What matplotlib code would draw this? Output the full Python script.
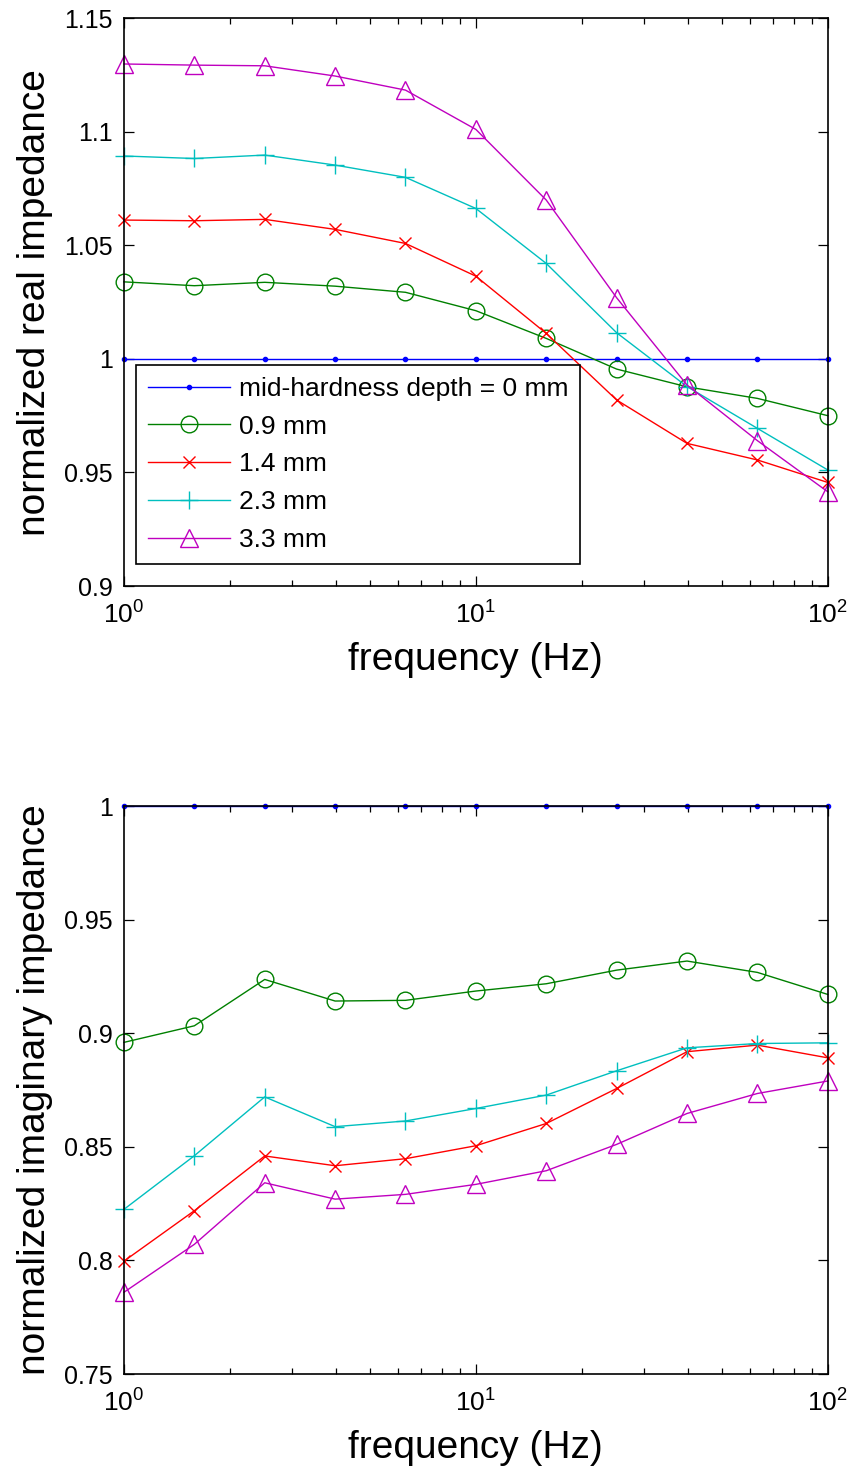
import numpy as np
import matplotlib
matplotlib.use('Agg')
import matplotlib.pyplot as plt
from matplotlib.ticker import FixedLocator, FixedFormatter, LogLocator, NullFormatter

plt.rcParams['font.family'] = ['Liberation Sans', 'DejaVu Sans']

# frequency points (Hz)
freq = [1, 1.585, 2.512, 3.981, 6.31, 10, 15.85, 25.12, 39.81, 63.1, 100]

labels = ['mid-hardness depth = 0 mm', '0.9 mm', '1.4 mm', '2.3 mm', '3.3 mm']

# normalized real impedance
real_0 = [1.0] * 11
real_09 = [1.0339, 1.0322, 1.0337, 1.0320, 1.0293, 1.0212, 1.0090, 0.9955, 0.9877, 0.9826, 0.9750]
real_14 = [1.0611, 1.0608, 1.0614, 1.0570, 1.0508, 1.0364, 1.0112, 0.9819, 0.9628, 0.9555, 0.9456]
real_23 = [1.0893, 1.0882, 1.0897, 1.0853, 1.0799, 1.0662, 1.0420, 1.0115, 0.9878, 0.9694, 0.9511]
real_33 = [1.1298, 1.1293, 1.1290, 1.1245, 1.1183, 1.1010, 1.0699, 1.0269, 0.9885, 0.9640, 0.9415]

# normalized imaginary impedance
imag_0 = [1.0] * 11
imag_09 = [0.8960, 0.9033, 0.9237, 0.9142, 0.9145, 0.9186, 0.9218, 0.9278, 0.9318, 0.9268, 0.9171]
imag_14 = [0.7997, 0.8219, 0.8460, 0.8417, 0.8448, 0.8505, 0.8603, 0.8757, 0.8919, 0.8948, 0.8892]
imag_23 = [0.8225, 0.8461, 0.8720, 0.8589, 0.8614, 0.8669, 0.8728, 0.8835, 0.8936, 0.8955, 0.8958]
imag_33 = [0.7860, 0.8071, 0.8342, 0.8270, 0.8291, 0.8335, 0.8395, 0.8511, 0.8647, 0.8735, 0.8790]

real_ticks = [0.9, 0.95, 1, 1.05, 1.1, 1.15]
imag_ticks = [0.75, 0.8, 0.85, 0.9, 0.95, 1]

colors = [(0, 0, 1), (0, 0.5, 0), (1, 0, 0), (0, 0.75, 0.75), (0.75, 0, 0.75)]
markers = ['.', 'o', 'x', '+', '^']
msizes = [6, 12, 9, 13, 13]


def draw(ax, series, yticks, ylabel):
    handles = []
    for vals, c, m, ms, lab in zip(series, colors, markers, msizes, labels):
        h, = ax.plot(freq, vals, color=c, marker=m, markersize=ms,
                     markerfacecolor='none' if m != '.' else c,
                     markeredgewidth=1.0, linewidth=1.0, label=lab,
                     clip_on=False)
        handles.append(h)
    ax.set_xscale('log')
    ax.set_xlim(1, 100)
    ax.set_ylim(yticks[0], yticks[-1])
    ax.yaxis.set_major_locator(FixedLocator(yticks))
    ax.yaxis.set_major_formatter(FixedFormatter(['%g' % t for t in yticks]))
    ax.xaxis.set_major_locator(LogLocator(base=10))
    ax.xaxis.set_minor_locator(LogLocator(base=10, subs=np.arange(2, 10)))
    ax.xaxis.set_minor_formatter(NullFormatter())
    ax.tick_params(which='both', direction='in', top=True, right=True,
                   labelsize=18, width=0.9)
    ax.tick_params(which='major', length=7, pad=8)
    ax.tick_params(axis='x', which='major', pad=11, labelsize=19)
    ax.tick_params(which='minor', length=4)
    for s in ax.spines.values():
        s.set_linewidth(1.2)
    ax.set_xlabel('frequency (Hz)', fontsize=28, labelpad=10)
    ax.set_ylabel(ylabel, fontsize=28, labelpad=8)
    return handles


fig = plt.figure(figsize=(8.49, 14.71), dpi=100)
ax1 = fig.add_axes([0.146, 0.6016, 0.829, 0.3861])
ax2 = fig.add_axes([0.146, 0.0659, 0.829, 0.3861])

hs = draw(ax1, [real_0, real_09, real_14, real_23, real_33], real_ticks,
          'normalized real impedance')
draw(ax2, [imag_0, imag_09, imag_14, imag_23, imag_33], imag_ticks,
     'normalized imaginary impedance')

lgd = ax1.legend(handles=hs, loc='upper left', bbox_to_anchor=(0.017, 0.389),
                 fontsize=19, handlelength=3.1, handletextpad=0.35,
                 frameon=True, fancybox=False, framealpha=1.0,
                 borderaxespad=0., labelspacing=0.52, borderpad=0.45)
lgd.get_frame().set_edgecolor('black')
lgd.get_frame().set_linewidth(1.2)

fig.savefig('out.png', dpi=100)
